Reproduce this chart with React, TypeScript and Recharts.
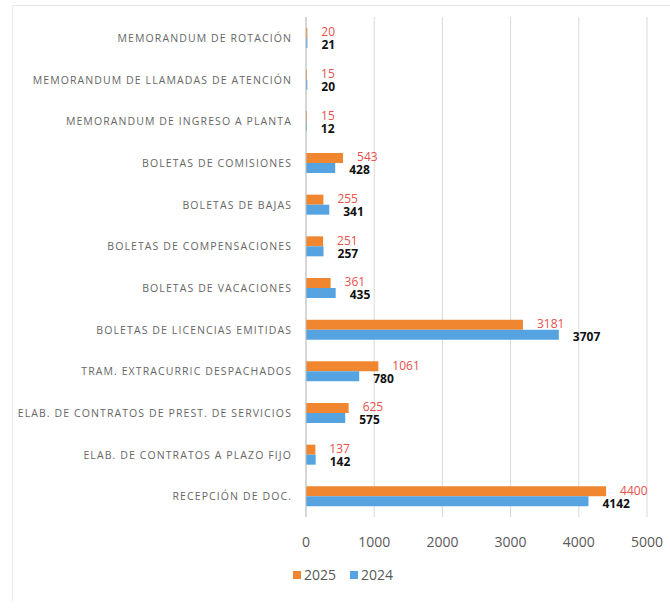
import { BarChart, Bar, XAxis, YAxis, CartesianGrid, LabelList } from 'recharts';

const categories = [
  'MEMORANDUM DE ROTACIÓN',
  'MEMORANDUM DE LLAMADAS DE ATENCIÓN',
  'MEMORANDUM DE INGRESO A PLANTA',
  'BOLETAS DE COMISIONES',
  'BOLETAS DE BAJAS',
  'BOLETAS DE COMPENSACIONES',
  'BOLETAS DE VACACIONES',
  'BOLETAS DE LICENCIAS EMITIDAS',
  'TRAM. EXTRACURRIC DESPACHADOS',
  'ELAB. DE CONTRATOS DE PREST. DE SERVICIOS',
  'ELAB. DE CONTRATOS A PLAZO FIJO',
  'RECEPCIÓN DE DOC.',
];
const values2025 = [20, 15, 15, 543, 255, 251, 361, 3181, 1061, 625, 137, 4400];
const values2024 = [21, 20, 12, 428, 341, 257, 435, 3707, 780, 575, 142, 4142];
const xTicks = [0, 1000, 2000, 3000, 4000, 5000];

const data = categories.map((name, i) => ({
  name,
  y2025: values2025[i],
  y2024: values2024[i],
}));

const FONT = '"Open Sans", "DejaVu Sans", sans-serif';
const ORANGE = '#F0862F';
const BLUE = '#55A3E0';

const CategoryTick = ({ x, y, payload }: any) => (
  <text x={x} y={y} dy={4} textAnchor="end" fill="#666" fontSize={10.5} letterSpacing={1.1} fontFamily={FONT}>
    {payload.value}
  </text>
);

const App = () => {
  return (
    <div style={{ position: 'absolute', left: 0, top: 0, width: 670, height: 609, background: '#fff', fontFamily: FONT }}>
      {/* faint chart frame */}
      <div style={{ position: 'absolute', left: 12, top: 5, width: 658, height: 596, borderTop: '1px solid #e6e6e6', borderLeft: '1px solid #ececec' }} />
      <BarChart
        width={670}
        height={609}
        data={data}
        layout="vertical"
        margin={{ top: 17, right: 23, bottom: 62, left: 0 }}
        barGap={0}
        barSize={10}
      >
        <CartesianGrid horizontal={false} stroke="#d9d9d9" />
        <XAxis
          type="number"
          domain={[0, 5000]}
          ticks={xTicks}
          axisLine={false}
          tickLine={false}
          tickMargin={14}
          tick={{ fill: '#595959', fontSize: 14, fontFamily: FONT }}
        />
        <YAxis
          type="category"
          dataKey="name"
          width={306}
          interval={0}
          tickLine={false}
          tickMargin={8}
          axisLine={{ stroke: '#bfbfbf' }}
          tick={<CategoryTick />}
        />
        <Bar dataKey="y2025" name="2025" fill={ORANGE} isAnimationActive={false}>
          <LabelList dataKey="y2025" position="right" offset={14} dy={-1} fill="#E8504A" fontSize={12} fontFamily={FONT} />
        </Bar>
        <Bar dataKey="y2024" name="2024" fill={BLUE} isAnimationActive={false}>
          <LabelList dataKey="y2024" position="right" offset={14} dy={2} fill="#111" fontSize={12} fontWeight="bold" fontFamily={FONT} />
        </Bar>
      </BarChart>
      {/* legend */}
      <div style={{ position: 'absolute', top: 565, left: 293, display: 'flex', alignItems: 'center', fontSize: 14, color: '#595959' }}>
        <span style={{ width: 8, height: 8, background: ORANGE, marginRight: 3 }} />
        <span style={{ marginRight: 14 }}>2025</span>
        <span style={{ width: 8, height: 8, background: BLUE, marginRight: 3 }} />
        <span>2024</span>
      </div>
    </div>
  );
};

export default App;
